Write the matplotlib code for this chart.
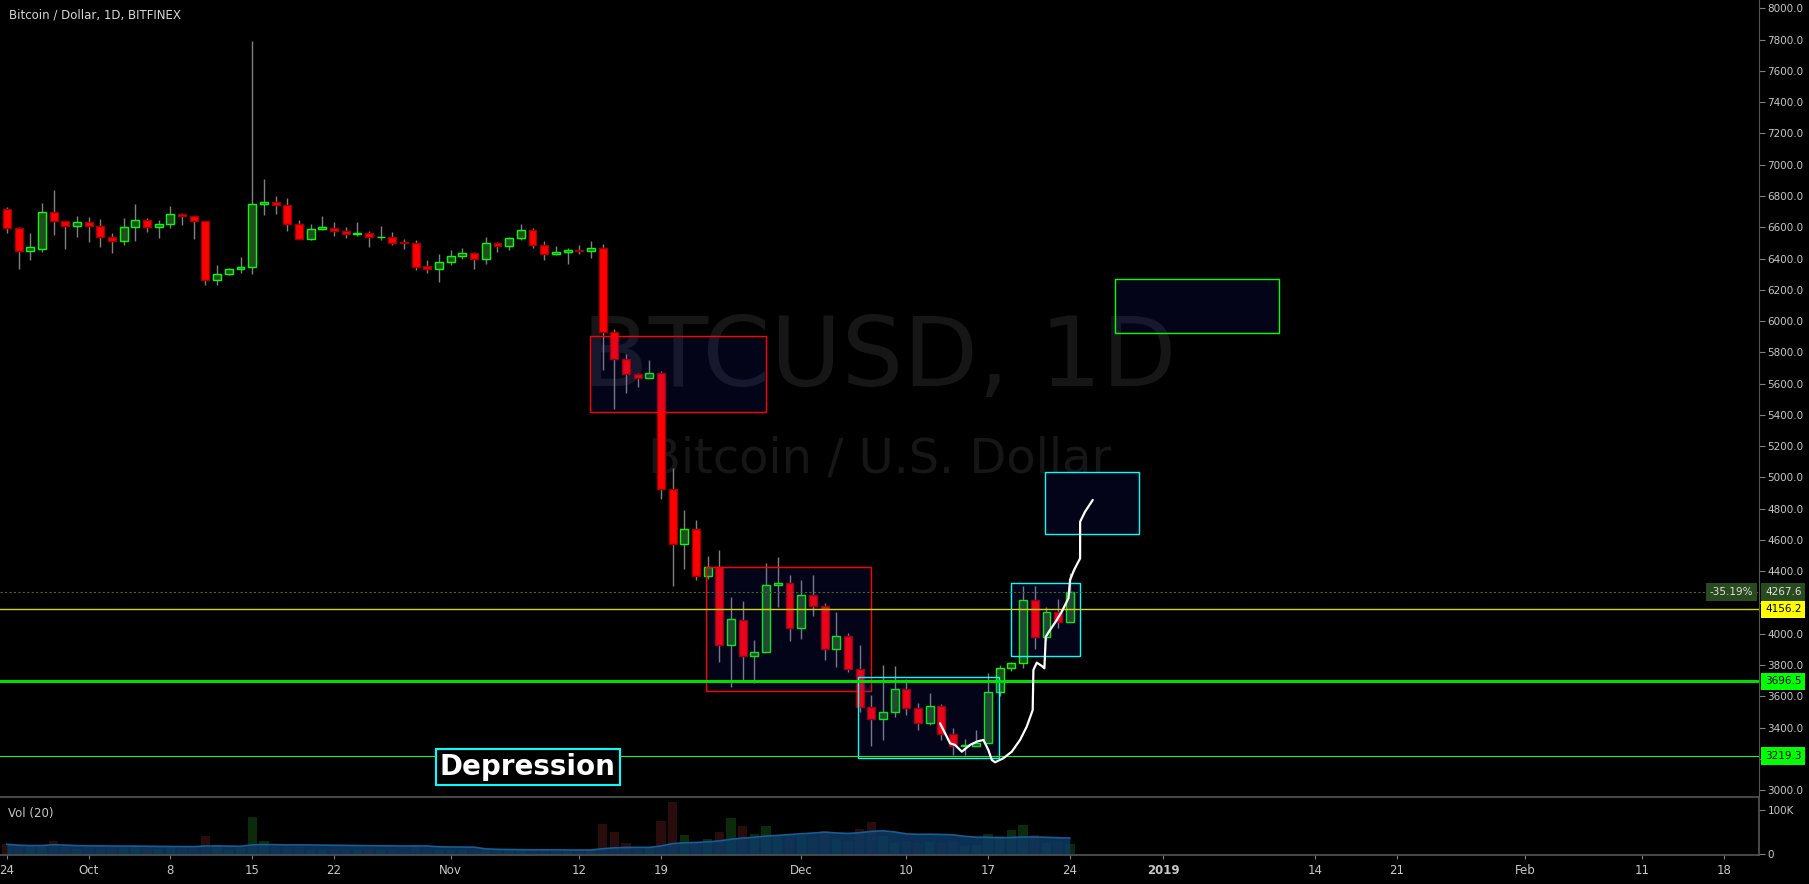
import numpy as np
import pandas as pd
import matplotlib
matplotlib.use("Agg")
import matplotlib.pyplot as plt
import matplotlib.dates as mdates
import matplotlib.transforms as mtransforms
from matplotlib.patches import Rectangle

# daily BTC/USD candles, Bitfinex
dates = pd.date_range("2018-09-24", "2018-12-24", freq="D")
opens = [6715, 6593, 6446, 6463, 6695, 6642, 6606, 6631, 6606, 6536, 6510, 6599, 6644, 6599,
         6619, 6683, 6670, 6638, 6261, 6299, 6331, 6344, 6746, 6759, 6740, 6619, 6527, 6588,
         6593, 6574, 6555, 6561, 6535, 6535, 6503, 6497, 6350, 6335, 6376, 6414, 6433, 6395,
         6497, 6478, 6529, 6580, 6484, 6427, 6440, 6453, 6450, 6465, 5928, 5755, 5659, 5634,
         5666, 4924, 4573, 4668, 4372, 4426, 3931, 4087, 3861, 3886, 4310, 4323, 4040, 4246,
         4176, 3901, 3984, 3773, 3530, 3458, 3503, 3645, 3524, 3432, 3537, 3358, 3283, 3285,
         3300, 3626, 3780, 3812, 4215, 3978, 4138, 4074]
highs = [6729, 6600, 6563, 6755, 6838, 6642, 6672, 6666, 6653, 6563, 6659, 6751, 6659, 6646,
         6736, 6691, 6670, 6638, 6359, 6337, 6410, 7790, 6908, 6798, 6787, 6644, 6621, 6672,
         6633, 6601, 6633, 6576, 6608, 6569, 6525, 6518, 6390, 6429, 6454, 6467, 6442, 6538,
         6506, 6540, 6621, 6593, 6512, 6480, 6469, 6486, 6512, 6493, 5949, 5790, 5666, 5751,
         5680, 5060, 4792, 4728, 4498, 4536, 4236, 4210, 3961, 4453, 4492, 4376, 4345, 4376,
         4197, 4140, 4003, 3929, 3609, 3801, 3795, 3712, 3556, 3620, 3552, 3396, 3328, 3385,
         3748, 3801, 3822, 4306, 4306, 4174, 4223, 4387]
lows = [6565, 6335, 6393, 6444, 6550, 6463, 6540, 6508, 6476, 6438, 6487, 6514, 6572, 6533,
        6597, 6614, 6525, 6233, 6233, 6293, 6310, 6303, 6680, 6687, 6578, 6527, 6518, 6585,
        6546, 6533, 6546, 6476, 6518, 6486, 6461, 6327, 6307, 6250, 6361, 6399, 6333, 6367,
        6444, 6457, 6518, 6469, 6393, 6425, 6367, 6431, 6405, 5687, 5440, 5542, 5580, 5634,
        4864, 4308, 4415, 4345, 4350, 3820, 3663, 3701, 3688, 3886, 4172, 3955, 3967, 4114,
        3833, 3790, 3758, 3500, 3285, 3321, 3471, 3481, 3385, 3420, 3322, 3226, 3226, 3283,
        3300, 3600, 3765, 3784, 3906, 3960, 4036, 4074]
closes = [6593, 6446, 6472, 6695, 6642, 6606, 6631, 6606, 6536, 6510, 6599, 6644, 6599, 6619,
          6683, 6670, 6638, 6261, 6299, 6331, 6344, 6746, 6759, 6740, 6619, 6527, 6587, 6600,
          6574, 6555, 6563, 6535, 6537, 6501, 6500, 6348, 6335, 6376, 6414, 6433, 6395, 6497,
          6478, 6529, 6580, 6484, 6427, 6442, 6452, 6450, 6465, 5928, 5755, 5659, 5634, 5666,
          4924, 4573, 4668, 4372, 4426, 3931, 4093, 3861, 3882, 4310, 4323, 4040, 4246, 4176,
          3901, 3984, 3773, 3530, 3458, 3503, 3645, 3524, 3432, 3537, 3358, 3283, 3289, 3300,
          3626, 3780, 3812, 4215, 3978, 4138, 4074, 4267.6]
# volume in thousands
volumes = [22, 18, 17, 20, 29, 15, 12, 16, 17, 15, 16, 18, 14, 12, 16, 13, 14, 42, 20, 10, 14,
           85, 30, 16, 17, 15, 10, 8, 12, 10, 9, 12, 9, 8, 7, 18, 10, 9, 9, 8, 7, 9, 8, 9, 10,
           9, 10, 6, 6, 8, 9, 69, 51, 25, 12, 15, 75, 118, 44, 25, 34, 51, 82, 64, 46, 64, 40,
           45, 43, 37, 52, 33, 29, 57, 73, 40, 25, 30, 25, 28, 25, 30, 18, 20, 45, 40, 55, 66,
           44, 25, 28, 22]

tick_dates = ["2018-09-24", "2018-10-01", "2018-10-08", "2018-10-15", "2018-10-22",
              "2018-11-01", "2018-11-12", "2018-11-19", "2018-12-01", "2018-12-10",
              "2018-12-17", "2018-12-24", "2019-01-01", "2019-01-14", "2019-01-21",
              "2019-02-01", "2019-02-11", "2019-02-18"]
tick_labels = ["24", "Oct", "8", "15", "22", "Nov", "12", "19", "Dec", "10", "17", "24",
               "2019", "14", "21", "Feb", "11", "18"]

# price ticks hidden behind the level labels
hidden_ticks = [4200, 3200]

# drawn boxes: day offsets from first candle, price range, edge colour
box_start = [49.95, 59.88, 72.9, 85.94, 88.9, 94.9]
box_end = [64.97, 73.96, 84.9, 91.9, 96.95, 108.9]
box_low = [5417, 3633, 3205, 3857, 4639, 5921]
box_high = [5903, 4426, 3726, 4327, 5036, 6268]
box_color = ["#ff0000", "#ff0000", "#00ffff", "#00ffff", "#00ffff", "#00ff00"]

# hand drawn projection path
path_days = [79.89, 80.75, 81.17, 81.75, 82.46, 83.03, 83.6, 84.02, 84.32, 84.6, 85.31, 86.03,
             86.74, 87.31, 87.82, 87.88, 88.17, 88.6, 88.82, 88.94, 89.31, 89.88, 90.31, 90.88,
             91.02, 91.36, 91.88, 91.88, 92.3, 92.96]
path_prices = [3428, 3300, 3290, 3247, 3290, 3311, 3322, 3258, 3194, 3179, 3205, 3247, 3322,
               3407, 3513, 3769, 3816, 3795, 3780, 3982, 4025, 4089, 4142, 4228, 4345, 4408,
               4483, 4717, 4781, 4856]

W, H = 1809, 884
x = mdates.date2num(dates)
d0 = x[0]
o = np.array(opens, float)
h = np.array(highs, float)
l = np.array(lows, float)
c = np.array(closes, float)
up = c >= o

fig = plt.figure(figsize=(W / 100, H / 100), dpi=100, facecolor="black")
ax = fig.add_axes([0, 1 - 797 / H, 1759 / W, 797 / H], facecolor="black")
axv = fig.add_axes([0, 1 - 855 / H, 1759 / W, 58 / H], facecolor="black", sharex=ax)

# watermark
ax.text(0.5, 0.516, "BTCUSD, 1D", transform=ax.transAxes, ha="center", va="baseline",
        fontsize=70, color="#161616", zorder=0.5)
ax.text(0.5, 0.4075, "Bitcoin / U.S. Dollar", transform=ax.transAxes, ha="center",
        va="baseline", fontsize=34.5, color="#161616", zorder=0.5)

# candles
ax.vlines(x, l, h, color="#808080", lw=1, zorder=2)
bottoms = np.minimum(o, c)
heights = np.abs(c - o)
ax.bar(x[up], heights[up], bottom=bottoms[up], width=0.68, color="#234d1e",
       edgecolor="#00ff00", lw=1, zorder=3)
ax.bar(x[~up], heights[~up], bottom=bottoms[~up], width=0.68, color="#ff0000",
       edgecolor="#a00000", lw=1, zorder=3)

# boxes
for s, e, lo, hi, col in zip(box_start, box_end, box_low, box_high, box_color):
    ax.add_patch(Rectangle((d0 + s, lo), e - s, hi - lo, facecolor=(0.16, 0.16, 1, 0.1),
                           edgecolor=col, lw=1, zorder=4))

# horizontal levels
ax.axhline(4267.6, color="#3d6b2e", ls=(0, (2, 2)), lw=0.8, zorder=4.5)
ax.axhline(4156.2, color="#d8d800", lw=1, zorder=4.5)
ax.axhline(3696.5, color="#00e000", lw=2.2, zorder=4.5)
ax.axhline(3219.3, color="#20f020", lw=0.8, zorder=4.5)

ax.plot(d0 + np.array(path_days), path_prices, color="white", lw=1.6, zorder=5,
        solid_capstyle="round", solid_joinstyle="round")

ax.text(d0 + 44.6, 3149, "Depression", fontsize=20, fontweight="bold", color="white",
        ha="center", va="center", zorder=6,
        bbox=dict(boxstyle="square,pad=0.15", fc="black", ec="#00ffff", lw=1.5))

ax.set_xlim(d0 - 0.59, d0 + 150.0)
ax.set_ylim(2957, 8053)
ax.yaxis.tick_right()
price_ticks = np.arange(3000, 8001, 200)
ax.set_yticks(price_ticks)
ax.set_yticklabels(["" if v in hidden_ticks else f"{v:.1f}" for v in price_ticks])
ax.tick_params(axis="y", colors="#808080", labelcolor="#c8c8c8", length=4, labelsize=7.5, pad=2)
ax.tick_params(axis="x", bottom=False, labelbottom=False)
for side in ["top", "left", "bottom"]:
    ax.spines[side].set_visible(False)
ax.spines["right"].set_color("#555555")

# price labels on the axis
trans = mtransforms.blended_transform_factory(ax.transAxes, ax.transData)
label_prices = [4267.6, 4156.2, 3696.5, 3219.3]
label_fc = ["#284a1e", "#ffff00", "#00ff00", "#00ff00"]
label_tc = ["#e0e0e0", "black", "black", "black"]
for p, fc, tc in zip(label_prices, label_fc, label_tc):
    ax.text(1 + 6 / 1759, p, f"{p:.1f}", transform=trans, ha="left", va="center", fontsize=7.5,
            color=tc, clip_on=False, zorder=10,
            bbox=dict(boxstyle="square,pad=0.35", fc=fc, ec="none"))
ax.text(1 - 6 / 1759, 4267.6, "-35.19%", transform=trans, ha="right", va="center",
        fontsize=7.5, color="#e0e0e0", zorder=10,
        bbox=dict(boxstyle="square,pad=0.35", fc="#284a1e", ec="none"))

# volume panel
v = np.array(volumes, float) * 1000
vcol = np.where(up, "#0c2a0c", "#2a0c0c")
axv.bar(x, v, width=0.8, color=vcol, zorder=1)
ma = pd.Series(v).rolling(20, min_periods=1).mean().values
axv.fill_between(x, 0, ma, color="#0c3a63", alpha=0.85, lw=0, zorder=2)
axv.plot(x, ma, color="#1a5d96", lw=1.2, zorder=3)
axv.set_ylim(-2300, 129500)
axv.yaxis.tick_right()
axv.set_yticks([0, 100000])
axv.set_yticklabels(["0", "100K"])
axv.tick_params(axis="y", colors="#808080", labelcolor="#c8c8c8", length=4, labelsize=7.5, pad=2)
axv.set_xticks(mdates.date2num(pd.to_datetime(tick_dates)))
axv.set_xticklabels(tick_labels)
axv.tick_params(axis="x", colors="#808080", labelcolor="#c8c8c8", length=3, labelsize=8.5, pad=3.5)
for t in axv.get_xticklabels():
    if t.get_text() == "2019":
        t.set_fontweight("bold")
axv.spines["left"].set_visible(False)
for side in ["top", "bottom", "right"]:
    axv.spines[side].set_color("#555555")
    axv.spines[side].set_linewidth(1.2)
axv.text(8 / 1759, 0.707, "Vol (20)", transform=axv.transAxes, va="center", fontsize=8.5,
         color="#c8c8c8")

fig.text(9 / W, 1 - 15 / H, "Bitcoin / Dollar, 1D, BITFINEX", va="center", fontsize=8.5,
         color="#d8d8d8")

fig.savefig("out.png", dpi=100, facecolor="black")
